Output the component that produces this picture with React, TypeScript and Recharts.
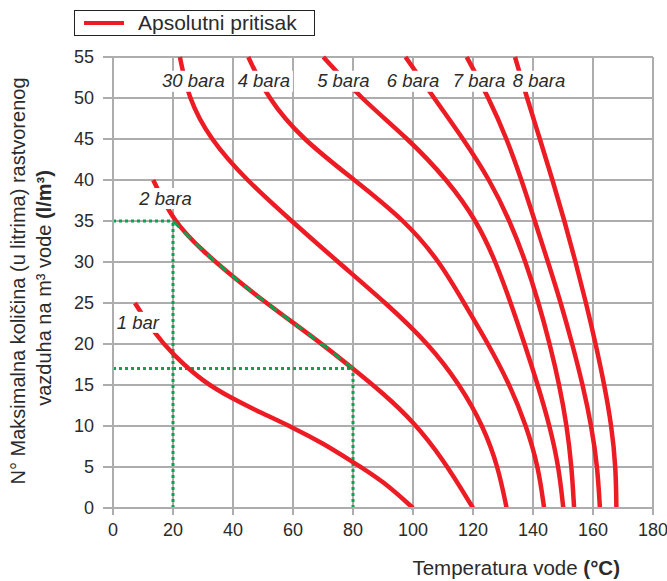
import {
  LineChart,
  Line,
  XAxis,
  YAxis,
  CartesianGrid,
  ReferenceLine,
  ReferenceDot,
  Label,
} from 'recharts';

// temperature (°C) vs. max dissolved air (l/m³)
const bar1 = [
  { t: 7.3, v: 25 },
  { t: 13.4, v: 21.5 },
  { t: 20, v: 18.7 },
  { t: 30, v: 15.4 },
  { t: 40, v: 13.3 },
  { t: 50, v: 11.5 },
  { t: 60, v: 9.8 },
  { t: 70, v: 7.9 },
  { t: 80, v: 5.6 },
  { t: 90, v: 3.3 },
  { t: 100, v: 0 },
];
const bar2 = [
  { t: 13.4, v: 40 },
  { t: 20, v: 35 },
  { t: 30, v: 31.3 },
  { t: 40, v: 28.2 },
  { t: 50, v: 25.3 },
  { t: 60, v: 22.6 },
  { t: 70, v: 19.9 },
  { t: 80, v: 17 },
  { t: 90, v: 14 },
  { t: 100, v: 10.6 },
  { t: 110, v: 6 },
  { t: 120, v: 0 },
];
const bar3 = [
  { t: 22.3, v: 55 },
  { t: 25.1, v: 50 },
  { t: 32.3, v: 45 },
  { t: 44.4, v: 40 },
  { t: 59.5, v: 35 },
  { t: 75, v: 30 },
  { t: 91, v: 25 },
  { t: 105.3, v: 20 },
  { t: 115.7, v: 15 },
  { t: 123.4, v: 10 },
  { t: 128.4, v: 5 },
  { t: 131.2, v: 0 },
];
const bar4 = [
  { t: 45.1, v: 55 },
  { t: 51.5, v: 50 },
  { t: 63, v: 45 },
  { t: 80.5, v: 40 },
  { t: 97.5, v: 35 },
  { t: 109, v: 30 },
  { t: 117, v: 25 },
  { t: 125.1, v: 20 },
  { t: 132.3, v: 15 },
  { t: 137.8, v: 10 },
  { t: 141.8, v: 5 },
  { t: 143.7, v: 0 },
];
const bar5 = [
  { t: 70.1, v: 55 },
  { t: 82.5, v: 50 },
  { t: 98.5, v: 45 },
  { t: 111.5, v: 40 },
  { t: 121.3, v: 35 },
  { t: 127.6, v: 30 },
  { t: 132.6, v: 25 },
  { t: 137.2, v: 20 },
  { t: 141.6, v: 15 },
  { t: 145.6, v: 10 },
  { t: 148.6, v: 5 },
  { t: 150.1, v: 0 },
];
const bar6 = [
  { t: 97.5, v: 55 },
  { t: 107, v: 50 },
  { t: 116.8, v: 45 },
  { t: 125.6, v: 40 },
  { t: 132.3, v: 35 },
  { t: 137.6, v: 30 },
  { t: 141.9, v: 25 },
  { t: 145.6, v: 20 },
  { t: 148.8, v: 15 },
  { t: 151.3, v: 10 },
  { t: 152.9, v: 5 },
  { t: 153.7, v: 0 },
];
const bar7 = [
  { t: 117.9, v: 55 },
  { t: 125.3, v: 50 },
  { t: 131.3, v: 45 },
  { t: 136.2, v: 40 },
  { t: 140.6, v: 35 },
  { t: 145, v: 30 },
  { t: 149.3, v: 25 },
  { t: 153.1, v: 20 },
  { t: 156.6, v: 15 },
  { t: 159.5, v: 10 },
  { t: 161.5, v: 5 },
  { t: 162.3, v: 0 },
];
const bar8 = [
  { t: 134, v: 55 },
  { t: 138, v: 50 },
  { t: 142.3, v: 45 },
  { t: 146.5, v: 40 },
  { t: 150.5, v: 35 },
  { t: 154.2, v: 30 },
  { t: 157.7, v: 25 },
  { t: 160.9, v: 20 },
  { t: 163.8, v: 15 },
  { t: 166.2, v: 10 },
  { t: 167.6, v: 5 },
  { t: 167.8, v: 0 },
];

const curves = [bar1, bar2, bar3, bar4, bar5, bar6, bar7, bar8];

// curve name tags: text, position (t, v), box width
const curveLabels = ['1 bar', '2 bara', '30 bara', '4 bara', '5 bara', '6 bara', '7 bara', '8 bara'];
const labelT = [8.3, 17.5, 26.8, 50.3, 76.8, 100, 122, 142];
const labelV = [22.7, 37.8, 52.1, 52.1, 52.1, 52.1, 52.1, 52.1];
const labelW = [46, 58, 68, 58, 58, 58, 58, 58];

const xTicks = [0, 20, 40, 60, 80, 100, 120, 140, 160, 180];
const yTicks = [0, 5, 10, 15, 20, 25, 30, 35, 40, 45, 50, 55];

// reading example on the 2 bar curve
const readFrom = { t: 20, v: 35 };
const readTo = { t: 80, v: 17 };
const readPath = bar2.filter((p) => p.t >= readFrom.t && p.t <= readTo.t);

const RED = '#ed1c24';
const GREEN = '#00a651';
const GRID = '#adadad';
const TEXT = '#2b2b2b';
const FONT = '"Liberation Sans", Arial, sans-serif';

function CurveTag(props: any) {
  const { cx, cy, text, w } = props;
  return (
    <g>
      <rect x={cx - w / 2} y={cy - 10} width={w} height={21} fill="#fff" />
      <text
        x={cx}
        y={cy}
        dy="0.36em"
        textAnchor="middle"
        fontStyle="italic"
        fontSize={18.5}
        fontFamily={FONT}
        fill={TEXT}
      >
        {text}
      </text>
    </g>
  );
}

function YTitle() {
  return (
    <g fontFamily={FONT} fontSize={20} fill={TEXT}>
      <text transform="translate(25,281) rotate(-90)" textAnchor="middle">
        N° Maksimalna količina (u litrima) rastvorenog
      </text>
      <text transform="translate(51,288) rotate(-90)" textAnchor="middle">
        vazduha na m³ vode <tspan fontWeight="bold">(l/m³)</tspan>
      </text>
    </g>
  );
}

function XTitle() {
  return (
    <text x={620} y={575} textAnchor="end" fontFamily={FONT} fontSize={20.5} fill={TEXT}>
      Temperatura vode <tspan fontWeight="bold">(°C)</tspan>
    </text>
  );
}

export default function App() {
  return (
    <div style={{ position: 'absolute', left: 0, top: 0, width: 667, height: 581, background: '#fff' }}>
      <div
        style={{
          position: 'absolute',
          left: 74,
          top: 10,
          width: 241,
          height: 26,
          boxSizing: 'border-box',
          border: '1.5px solid #222',
          display: 'flex',
          alignItems: 'center',
          fontFamily: FONT,
          fontSize: 21,
          color: TEXT,
          zIndex: 2,
        }}
      >
        <span style={{ display: 'inline-block', width: 40, height: 4, background: RED, marginLeft: 9 }} />
        <span style={{ marginLeft: 14, lineHeight: '24px' }}>Apsolutni pritisak</span>
      </div>
      <LineChart width={667} height={581} margin={{ top: 57, right: 14, bottom: 0, left: 0 }}>
        <CartesianGrid stroke={GRID} strokeWidth={2} />
        <XAxis
          dataKey="t"
          type="number"
          domain={[0, 180]}
          ticks={xTicks}
          height={73}
          tickSize={7}
          tickMargin={8}
          axisLine={{ stroke: GRID, strokeWidth: 2 }}
          tickLine={{ stroke: GRID, strokeWidth: 2 }}
          tick={{ fontSize: 18, fill: TEXT, fontFamily: FONT }}
        >
          <Label content={() => <XTitle />} />
        </XAxis>
        <YAxis
          dataKey="v"
          type="number"
          domain={[0, 55]}
          ticks={yTicks}
          width={113}
          tickSize={10}
          tickMargin={9}
          axisLine={{ stroke: GRID, strokeWidth: 2 }}
          tickLine={{ stroke: GRID, strokeWidth: 2 }}
          tick={{ fontSize: 18, fill: TEXT, fontFamily: FONT }}
        >
          <Label content={() => <YTitle />} />
        </YAxis>
        <ReferenceLine
          segment={[{ x: 0, y: readFrom.v }, { x: readFrom.t, y: readFrom.v }]}
          stroke={GREEN}
          strokeWidth={3}
          strokeDasharray="3 3"
        />
        <ReferenceLine
          segment={[{ x: readFrom.t, y: 0 }, { x: readFrom.t, y: readFrom.v }]}
          stroke={GREEN}
          strokeWidth={3}
          strokeDasharray="3 3"
        />
        <ReferenceLine
          segment={[{ x: 0, y: readTo.v }, { x: readTo.t, y: readTo.v }]}
          stroke={GREEN}
          strokeWidth={3}
          strokeDasharray="3 3"
        />
        <ReferenceLine
          segment={[{ x: readTo.t, y: 0 }, { x: readTo.t, y: readTo.v }]}
          stroke={GREEN}
          strokeWidth={3}
          strokeDasharray="3 3"
        />
        {curves.map((c, i) => (
          <Line
            key={i}
            data={c}
            dataKey="v"
            type="basis"
            stroke={RED}
            strokeWidth={4.5}
            dot={false}
            activeDot={false}
            isAnimationActive={false}
          />
        ))}
        <Line
          data={readPath}
          dataKey="v"
          type="basis"
          stroke={GREEN}
          strokeWidth={2.8}
          strokeDasharray="9 7"
          dot={false}
          activeDot={false}
          isAnimationActive={false}
        />
        {curveLabels.map((txt, i) => (
          <ReferenceDot
            key={txt}
            x={labelT[i]}
            y={labelV[i]}
            r={0}
            shape={(p: any) => <CurveTag {...p} text={txt} w={labelW[i]} />}
          />
        ))}
      </LineChart>
    </div>
  );
}
